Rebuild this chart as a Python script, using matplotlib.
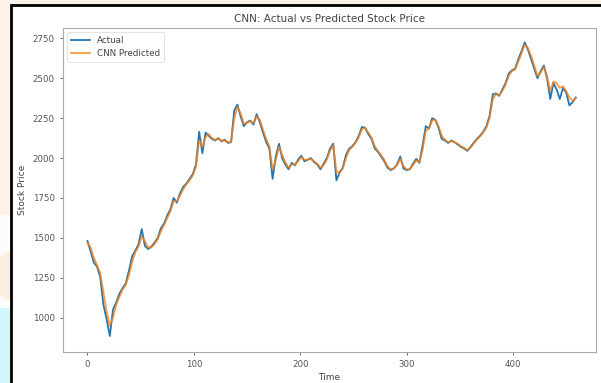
import numpy as np
import matplotlib
matplotlib.use("Agg")
import matplotlib.pyplot as plt
from matplotlib.patches import Rectangle, Ellipse

# Time steps (every 3rd day of the test window)
time = list(range(0, 460, 3))

# Actual closing prices
actual = [
    1480, 1415, 1345, 1320, 1255, 1080, 990, 885, 1050, 1095,
    1150, 1185, 1215, 1295, 1385, 1420, 1460, 1555, 1450, 1430,
    1445, 1470, 1500, 1560, 1590, 1640, 1680, 1750, 1720, 1780,
    1820, 1840, 1870, 1900, 1960, 2165, 2030, 2160, 2140, 2120,
    2110, 2125, 2105, 2115, 2095, 2100, 2300, 2335, 2260, 2200,
    2225, 2235, 2210, 2275, 2225, 2160, 2100, 2060, 1870, 2010,
    2090, 2000, 1960, 1930, 1970, 1955, 1990, 2015, 1980, 1990,
    2000, 1975, 1960, 1930, 1965, 2000, 2060, 2090, 1860, 1910,
    1940, 2020, 2060, 2075, 2100, 2140, 2195, 2190, 2150, 2120,
    2060, 2040, 2010, 1980, 1940, 1925, 1935, 1960, 2010, 1935,
    1925, 1930, 1965, 1995, 1970, 2080, 2200, 2185, 2250, 2240,
    2190, 2120, 2110, 2095, 2110, 2100, 2085, 2070, 2060, 2045,
    2070, 2095, 2120, 2140, 2165, 2200, 2265, 2400, 2405, 2390,
    2430, 2470, 2530, 2550, 2560, 2620, 2670, 2725, 2680, 2620,
    2560, 2500, 2545, 2580, 2500, 2370, 2470, 2430, 2370, 2440,
    2410, 2330, 2350, 2380,
]

# CNN predictions (lag slightly behind the actual series)
predicted = [
    1470, 1440, 1375, 1330, 1280, 1160, 1040, 950, 1000, 1080,
    1130, 1175, 1205, 1265, 1350, 1410, 1445, 1510, 1480, 1440,
    1440, 1460, 1490, 1540, 1580, 1625, 1665, 1730, 1730, 1765,
    1805, 1835, 1860, 1890, 1945, 2110, 2070, 2130, 2150, 2125,
    2115, 2120, 2110, 2110, 2100, 2100, 2250, 2320, 2280, 2215,
    2220, 2230, 2220, 2260, 2240, 2180, 2120, 2075, 1930, 1985,
    2070, 2020, 1975, 1940, 1960, 1960, 1980, 2005, 1990, 1990,
    1995, 1980, 1965, 1940, 1955, 1990, 2045, 2080, 1920, 1905,
    1935, 2000, 2050, 2070, 2095, 2130, 2180, 2190, 2160, 2130,
    2075, 2045, 2020, 1990, 1950, 1930, 1935, 1955, 1995, 1950,
    1930, 1930, 1955, 1985, 1975, 2050, 2170, 2185, 2235, 2240,
    2200, 2140, 2115, 2100, 2105, 2100, 2090, 2075, 2065, 2050,
    2065, 2090, 2115, 2135, 2160, 2190, 2250, 2370, 2400, 2395,
    2420, 2460, 2515, 2545, 2555, 2605, 2655, 2710, 2690, 2640,
    2580, 2515, 2535, 2570, 2515, 2420, 2480, 2470, 2440, 2450,
    2420, 2380, 2360, 2375,
]

W, H = 601, 383
fig = plt.figure(figsize=(W / 100, H / 100), dpi=100)
fig.patch.set_facecolor("white")

# screenshot background around the chart frame
fig.patches.append(Rectangle((0, 0), 1, 1, transform=fig.transFigure,
                             facecolor="#fdf1e8", edgecolor="none", zorder=-5))
fig.patches.append(Rectangle((0, 0), 11 / W, 75 / H, transform=fig.transFigure,
                             facecolor="#d3f6fc", edgecolor="none", zorder=-4.5))
fig.patches.append(Rectangle((0, 75 / H), 11 / W, 93 / H, transform=fig.transFigure,
                             facecolor="#fbfcfd", edgecolor="none", zorder=-4.5))
fig.patches.append(Ellipse((14 / W, 107 / H), 40 / W, 52 / H, transform=fig.transFigure,
                           facecolor="#fdeee2", edgecolor="none", zorder=-4))
fig.patches.append(Rectangle((11 / W, -0.05), 1.0, (H - 5) / H + 0.05,
                             transform=fig.transFigure, facecolor="white",
                             edgecolor="black", linewidth=2, zorder=-3))

ax = fig.add_axes([63 / W, 31 / H, (596 - 63) / W, (352 - 28) / H])
ax.plot(time, actual, color="#1f77b4", linewidth=1.3, label="Actual")
ax.plot(time, predicted, color="#ff7f0e", linewidth=1.3, alpha=0.8, label="CNN Predicted")

ax.set_xlim(-23, 478)
ax.set_ylim(785, 2815)
ax.set_xticks([0, 100, 200, 300, 400])
ax.set_yticks([1000, 1250, 1500, 1750, 2000, 2250, 2500, 2750])

ax.set_title("CNN: Actual vs Predicted Stock Price", fontsize=7.5, color="#444444", pad=4)
ax.set_xlabel("Time", fontsize=6.5, color="#444444", labelpad=3)
ax.set_ylabel("Stock Price", fontsize=6.5, color="#444444", labelpad=4)
ax.tick_params(labelsize=6.2, colors="#555555", length=2.5, width=0.6)
for s in ax.spines.values():
    s.set_color("#aaaaaa")
    s.set_linewidth(0.8)

leg = ax.legend(loc="upper left", fontsize=6.3, frameon=True, handlelength=2.2)
leg.get_frame().set_linewidth(0.5)
for t in leg.get_texts():
    t.set_color("#444444")

fig.savefig("out.png", dpi=100)
